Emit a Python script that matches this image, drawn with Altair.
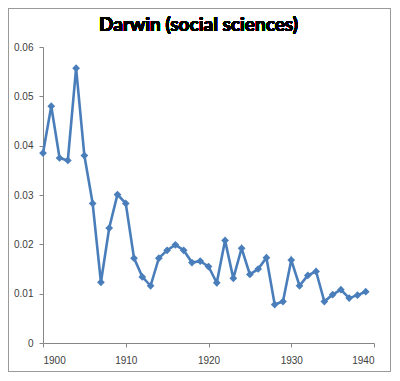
import altair as alt
import pandas as pd

title_text = "Darwin (social sciences)"
years = list(range(1900, 1940))
values = [0.0385, 0.0480, 0.0375, 0.0370, 0.0557, 0.0380, 0.0283, 0.0123, 0.0233, 0.0301,
          0.0283, 0.0172, 0.0134, 0.0116, 0.0172, 0.0188, 0.0199, 0.0188, 0.0163, 0.0166,
          0.0155, 0.0122, 0.0208, 0.0131, 0.0192, 0.0139, 0.0150, 0.0173, 0.0078, 0.0084,
          0.0168, 0.0116, 0.0137, 0.0145, 0.0084, 0.0098, 0.0108, 0.0091, 0.0097, 0.0104]
x_ticks = [1900, 1910, 1920, 1930, 1940]
y_ticks = [0, 0.01, 0.02, 0.03, 0.04, 0.05, 0.06]

df = pd.DataFrame({"year": years, "value": values})

W, H = 331, 296
PL, PT, PR, PB = 35, 39, 17, 29

x = alt.X("year:Q", scale=alt.Scale(domain=[1900, 1940], nice=False),
          axis=alt.Axis(values=x_ticks, format="d", title=None, grid=False,
                        tickSize=4, labelPadding=8))
y = alt.Y("value:Q", scale=alt.Scale(domain=[0, 0.06], nice=False),
          axis=alt.Axis(values=y_ticks, format="~g", title=None, grid=False,
                        tickSize=4, labelPadding=6))

line = alt.Chart(df).mark_line(color="#4a7ebb", strokeWidth=2.6).encode(x=x, y=y)
pts = alt.Chart(df).mark_point(shape="diamond", filled=True, color="#4a7ebb",
                               size=60, opacity=1).encode(x=x, y=y)

border = alt.Chart(df).mark_rect(fill=None, stroke="#9a9a9a", strokeWidth=1).encode(
    x=alt.value(-PL + 0.5), x2=alt.value(W + PR - 0.5),
    y=alt.value(-PT + 0.5), y2=alt.value(H + PB - 0.5)
)

title = alt.Chart(df).mark_text(font="Lato", fontSize=19, fontWeight="bold",
                                color="#000000", align="center",
                                baseline="alphabetic").encode(
    x=alt.value(W / 2 - 10), y=alt.value(-16), text=alt.value(title_text)
)

chart = alt.layer(border, line, pts, title).properties(
    width=W, height=H,
    autosize=alt.AutoSizeParams(type="none"),
    padding={"left": PL, "top": PT, "right": PR, "bottom": PB},
).configure_view(stroke=None).configure_axis(
    domainColor="#868686", tickColor="#868686", labelColor="#404040",
    labelFont="Liberation Sans", labelFontSize=10
)

chart.save("out.html", embed_options={"renderer": "svg", "actions": False})
